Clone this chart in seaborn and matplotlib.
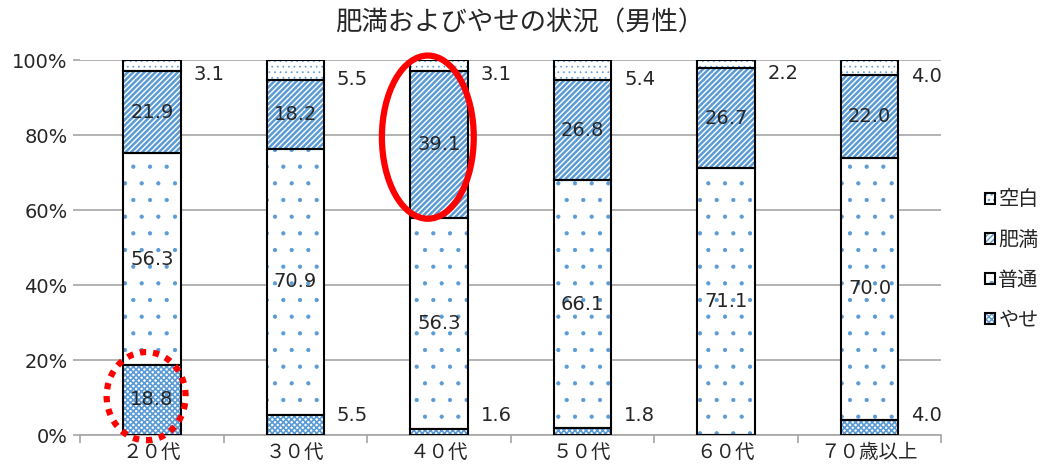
import numpy as np
import pandas as pd
import matplotlib
matplotlib.use("Agg")
import matplotlib.pyplot as plt
import seaborn as sns
from matplotlib.patches import Patch, Ellipse
from matplotlib.legend_handler import HandlerTuple

categories = ["２０代", "３０代", "４０代", "５０代", "６０代", "７０歳以上"]
yase = [18.8, 5.5, 1.6, 1.8, 0.0, 4.0]      # やせ
futsu = [56.3, 70.9, 56.3, 66.1, 71.1, 70.0]  # 普通
himan = [21.9, 18.2, 39.1, 26.8, 26.7, 22.0]  # 肥満
kuhaku = [3.1, 5.5, 3.1, 5.4, 2.2, 4.0]       # 空白
series_names = ["やせ", "普通", "肥満", "空白"]
yticks = [0, 20, 40, 60, 80, 100]

sns.set_theme(style="white")
plt.rcParams['font.family'] = ['Noto Sans CJK JP', 'DejaVu Sans']
NUMFONT = ['DejaVu Sans', 'Noto Sans CJK JP']
TXT = "#262626"

BLUE = "#5B9BD5"
fig = plt.figure(figsize=(10.4, 4.73), dpi=100)
ax = fig.add_axes([0.077, 0.080, 0.828, 0.793])

series = [yase, futsu, himan, kuhaku]
hatches = ["xxxxxx", ".", "//////", "..."]
hatch_lw = [1.2, 0.6, 1.8, 0.5]


def set_hlw(patches, lw):
    for p in patches:
        if hasattr(p, "set_hatch_linewidth"):
            p.set_hatch_linewidth(lw)


bottoms = np.zeros(len(categories))
W = 0.4
for vals, h, hl in zip(series, hatches, hatch_lw):
    vals = np.array(vals)
    n0 = len(ax.patches)
    with plt.rc_context({"hatch.linewidth": hl}):
        sns.barplot(x=categories, y=vals, bottom=bottoms, width=W, color="white",
                    saturation=1, edgecolor=BLUE, linewidth=0, hatch=h, ax=ax, zorder=2)
    set_hlw(ax.patches[n0:], hl)
    sns.barplot(x=categories, y=vals, bottom=bottoms, width=W, color="white",
                saturation=1, facecolor="none", edgecolor="black", linewidth=1.5,
                ax=ax, zorder=3)
    for i, (v, b) in enumerate(zip(vals, bottoms)):
        if v <= 0:
            continue
        if v >= 10:
            ax.text(i, b + v / 2, f"{v:.1f}", ha="center", va="center",
                    fontsize=14, color=TXT, zorder=5, family=NUMFONT)
        else:
            if b + v > 95:
                ty = b + v / 2 - 2.5
            else:
                ty = max(b + v / 2, 5.3)
            ax.text(i + W / 2 + 0.09, ty, f"{v:.1f}",
                    ha="left", va="center", fontsize=14, color=TXT, zorder=5,
                    family=NUMFONT)
    bottoms = bottoms + vals

# annotations (red ellipses)
ax.add_patch(Ellipse((0 - 0.04, yase[0] / 2 + 1), 0.55, 23.5, fill=False, edgecolor="red",
                     linewidth=4.5, linestyle=(0, (1, 1.1)), zorder=6, clip_on=False))
mid40 = yase[2] + futsu[2] + himan[2] / 2
ax.add_patch(Ellipse((2 - 0.077, mid40 + 2), 0.64, 43.5, fill=False, edgecolor="red",
                     linewidth=4.5, zorder=6, clip_on=False))

ax.set_ylim(0, 100)
ax.set_xlim(-0.5, len(categories) - 0.5)
ax.set_yticks(yticks)
ax.set_yticklabels([f"{t}%" for t in yticks], fontsize=14, family=NUMFONT, color=TXT)
ax.yaxis.grid(True, color="#A6A6A6", linewidth=1.2, zorder=0)
ax.set_axisbelow(True)
for s in ["top", "right", "left"]:
    ax.spines[s].set_visible(False)
ax.spines["bottom"].set_color("#A6A6A6")
ax.spines["bottom"].set_linewidth(1.2)
ax.set_xticks(range(len(categories)))
ax.set_xticklabels(categories, fontsize=14, color=TXT)
ax.set_xticks(np.arange(-0.5, len(categories)), minor=True)
ax.tick_params(axis="x", which="major", length=0, pad=5)
ax.tick_params(axis="x", which="minor", length=6, color="#A6A6A6", width=1.2, bottom=True)
ax.tick_params(axis="y", length=5, color="#A6A6A6", width=1.2, left=True, pad=4)
ax.set_xlabel("")
ax.set_ylabel("")

fig.suptitle("肥満およびやせの状況（男性）", fontsize=19, y=0.98, color=TXT)

handles = []
for h, hl in zip(hatches, hatch_lw):
    with plt.rc_context({"hatch.linewidth": hl}):
        p1 = Patch(facecolor="white", edgecolor=BLUE, linewidth=0, hatch=h)
    set_hlw([p1], hl)
    p2 = Patch(facecolor="none", edgecolor="black", linewidth=1.5)
    handles.append((p1, p2))
leg = fig.legend(handles[::-1], series_names[::-1], loc="center left",
                 bbox_to_anchor=(0.93, 0.45), frameon=False, fontsize=14.5,
                 handler_map={tuple: HandlerTuple(ndivide=1, pad=0)},
                 handlelength=0.5, handleheight=0.5, handletextpad=0.15,
                 labelspacing=0.95)
for t in leg.get_texts():
    t.set_color(TXT)

fig.savefig("out.png", dpi=100)
